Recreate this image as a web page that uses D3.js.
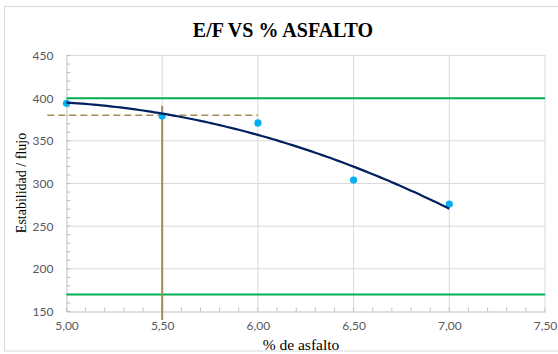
<!DOCTYPE html>
<html><head><meta charset="utf-8">
<script src="https://cdn.jsdelivr.net/npm/d3@7"></script>
<style>body{margin:0;background:#fff}</style>
</head><body>
<svg id="c" width="558" height="354"></svg>
<script>
const xValues = [5.00, 5.50, 6.00, 6.50, 7.00];
const yValues = [394, 379, 371, 304, 276];
const xTicks = [5.0, 5.5, 6.0, 6.5, 7.0, 7.5];
const yTicks = [150, 200, 250, 300, 350, 400, 450];
const limitLines = [400, 170];
const optimumX = [5.5];
const optimumY = [380];
const optimumXRange = [4.9, 6.0];
const optimumYRange = [140, 391];
const titleText = "E/F VS % ASFALTO";
const xLabel = "% de asfalto";
const yLabel = "Estabilidad / flujo";

const SERIF = '"Liberation Serif"';
const svg = d3.select("#c");
const x = d3.scaleLinear().domain([5, 7.5]).range([66.5, 545]);
const y = d3.scaleLinear().domain([150, 450]).range([311.5, 55.5]);
const fmt = v => d3.format(".2f")(v).replace(".", ",");

svg.append("rect").attr("x", 4.5).attr("y", 6.5).attr("width", 560).attr("height", 344.5)
  .attr("fill", "#fff").attr("stroke", "#d9d9d9");

// gridlines
svg.append("g").selectAll("line").data(yTicks.slice(1)).join("line")
  .attr("x1", x(5)).attr("x2", x(7.5)).attr("y1", d => y(d)).attr("y2", d => y(d))
  .attr("stroke", "#d9d9d9").attr("stroke-width", 1);
svg.append("g").selectAll("line").data(xTicks.slice(1)).join("line")
  .attr("x1", d => x(d)).attr("x2", d => x(d)).attr("y1", y(150)).attr("y2", y(450))
  .attr("stroke", "#d9d9d9").attr("stroke-width", 1);

// axes
const xAxis = d3.axisBottom(x).tickValues(xTicks).tickFormat(fmt).tickSize(0).tickPadding(10);
const gx = svg.append("g").attr("transform", `translate(0,${y(150)})`).call(xAxis);
gx.select(".domain").attr("stroke", "#bfbfbf");
const yAxis = d3.axisLeft(y).tickValues(yTicks).tickFormat(d3.format("d")).tickSize(0).tickPadding(13);
const gy = svg.append("g").attr("transform", `translate(${x(5)},0)`).call(yAxis);
gy.select(".domain").attr("stroke", "#bfbfbf");
svg.selectAll(".tick text").attr("fill", "#595959").style("font-family", '"Lato"').style("font-size", "12px");

// minor ticks
const xMinor = d3.range(50, 76).map(v => v / 10);
svg.append("g").selectAll("line").data(xMinor).join("line")
  .attr("x1", d => x(d)).attr("x2", d => x(d)).attr("y1", y(150)).attr("y2", y(150) - 4)
  .attr("stroke", "#bfbfbf");
const yMinor = d3.range(150, 451, 10);
svg.append("g").selectAll("line").data(yMinor).join("line")
  .attr("x1", x(5)).attr("x2", x(5) + 4).attr("y1", d => y(d)).attr("y2", d => y(d))
  .attr("stroke", "#bfbfbf");

// limit lines
svg.append("g").selectAll("line").data(limitLines).join("line")
  .attr("x1", x(5)).attr("x2", x(7.5)).attr("y1", d => y(d)).attr("y2", d => y(d))
  .attr("stroke", "#00b050").attr("stroke-width", 2);

// optimum lines
svg.append("g").selectAll("line").data(optimumX).join("line")
  .attr("x1", d => x(d)).attr("x2", d => x(d))
  .attr("y1", y(optimumYRange[0])).attr("y2", y(optimumYRange[1]))
  .attr("stroke", "#a08a5a").attr("stroke-width", 2);
svg.append("g").selectAll("line").data(optimumY).join("line")
  .attr("x1", x(optimumXRange[0])).attr("x2", x(optimumXRange[1]))
  .attr("y1", d => y(d)).attr("y2", d => y(d))
  .attr("stroke", "#a48c58").attr("stroke-width", 1.5).attr("stroke-dasharray", "7,4");

// points
svg.append("g").selectAll("circle").data(xValues).join("circle")
  .attr("cx", d => x(d)).attr("cy", (d, i) => y(yValues[i])).attr("r", 3.6)
  .attr("fill", "#00b0f0");

// polynomial (order 2) trendline via least squares
const n = xValues.length;
const mx = d3.mean(xValues);
const t = xValues.map(v => v - mx);
const S2 = d3.sum(t, v => v * v), S4 = d3.sum(t, v => v ** 4), S3 = d3.sum(t, v => v ** 3);
const Sy = d3.sum(yValues), Sty = d3.sum(t, (v, i) => v * yValues[i]), St2y = d3.sum(t, (v, i) => v * v * yValues[i]);
const M = [[n, 0, S2, Sy], [0, S2, S3, Sty], [S2, S3, S4, St2y]];
for (let i = 0; i < 3; i++) {
  for (let k = i + 1; k < 3; k++) {
    const f = M[k][i] / M[i][i];
    for (let j = i; j < 4; j++) M[k][j] -= f * M[i][j];
  }
}
const sol = [0, 0, 0];
for (let i = 2; i >= 0; i--) {
  let s = M[i][3];
  for (let j = i + 1; j < 3; j++) s -= M[i][j] * sol[j];
  sol[i] = s / M[i][i];
}
const [c0, c1, c2] = sol;
const trendX = d3.range(0, 101).map(i => xValues[0] + (xValues[n - 1] - xValues[0]) * i / 100);
svg.append("path").datum(trendX)
  .attr("d", d3.line().x(d => x(d)).y(d => { const tt = d - mx; return y(c0 + c1 * tt + c2 * tt * tt); }))
  .attr("fill", "none").attr("stroke", "#002060").attr("stroke-width", 2.2);

// texts
svg.append("text").attr("x", 283).attr("y", 37).attr("text-anchor", "middle")
  .style("font-family", SERIF).style("font-weight", "bold").style("font-size", "20px")
  .text(titleText);
svg.append("text").attr("x", 301).attr("y", 350).attr("text-anchor", "middle")
  .style("font-family", SERIF).style("font-size", "15.5px")
  .text(xLabel);
svg.append("text").attr("transform", `translate(26,183) rotate(-90)`).attr("text-anchor", "middle")
  .style("font-family", SERIF).style("font-size", "14px")
  .text(yLabel);
</script>
</body></html>
